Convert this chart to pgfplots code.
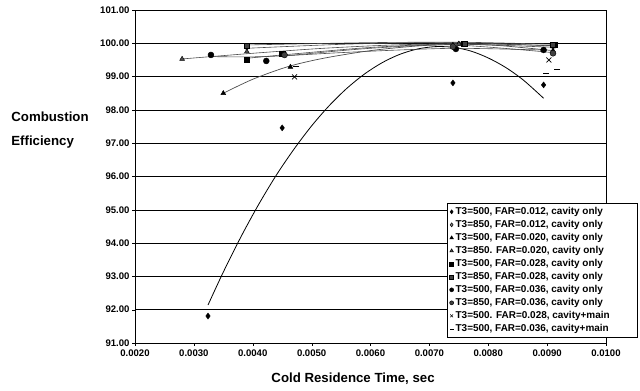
\documentclass[border=0pt]{standalone}
\usepackage{pgfplots}
\pgfplotsset{compat=1.18}
\usepackage{fontspec}
\setmainfont{Liberation Sans}
\newcommand\lp{\rule{24bp}{0pt}}
\begin{document}
\begin{tikzpicture}
\begin{axis}[
  name=ax,
  scale only axis, width=471bp, height=333bp,
  xmin=0.002, xmax=0.010, ymin=91, ymax=101,
  xtick={0.002,0.003,0.004,0.005,0.006,0.007,0.008,0.009,0.010},
  ytick={91,92,93,94,95,96,97,98,99,100,101},
  scaled x ticks=false,
  xticklabel style={/pgf/number format/.cd, fixed, fixed zerofill, precision=4},
  yticklabel style={xshift=1pt, /pgf/number format/.cd, fixed, fixed zerofill, precision=2},
  /pgf/number format/assume math mode=true,
  tick label style={font=\fontsize{9.6}{10}\selectfont\bfseries},
  xtick pos=bottom, ytick pos=left, tick align=outside,
  major tick length=3pt, tick style={black},
  ymajorgrids, grid style={black, line width=0.6pt},
  axis line style={black, line width=0.7pt},
  xlabel={Cold Residence Time, sec},
  xlabel style={font=\fontsize{13.3}{15}\selectfont\bfseries, at={(axis description cs:0.463,-0.08)}, anchor=north},
  ylabel={Combustion\\Efficiency},
  ylabel style={rotate=-90, align=left, anchor=west, font=\fontsize{13.3}{24}\selectfont\bfseries, at={(axis description cs:-0.27,0.64)}},
  legend cell align=left,
  legend style={at={(axis description cs:1.068,0.42)}, anchor=north east,
    font=\fontsize{10}{11}\selectfont\bfseries, draw=black, line width=0.7pt,
    inner xsep=2pt, inner ysep=2pt, row sep=0.3pt, fill=white,
    /tikz/every even column/.append style={column sep=1pt}},
  legend image code/.code={\draw[#1, mark size=2pt, line width=0.5pt] plot coordinates {(0.12cm,0cm)};},
]
% trend lines
\addplot[black, line width=0.8pt, smooth, forget plot] coordinates {
 (0.00324,92.14) (0.0035,93.13) (0.0038,94.19) (0.0041,95.16) (0.0044,96.04)
 (0.0047,96.82) (0.0050,97.52) (0.0053,98.13) (0.0056,98.65) (0.0059,99.08)
 (0.0062,99.42) (0.0065,99.67) (0.0068,99.83) (0.0071,99.90) (0.0074,99.88)
 (0.0077,99.77) (0.0080,99.56) (0.0083,99.27) (0.0086,98.89) (0.00894,98.35)};
\addplot[gray!60!black, line width=0.6pt, smooth, forget plot] coordinates {
 (0.0039,99.85) (0.0057,99.98) (0.0075,100.02) (0.0091,99.92)};
\addplot[gray!60!black, line width=0.7pt, smooth, forget plot] coordinates {
 (0.0035,98.5) (0.0040,98.92) (0.0046,99.3) (0.0052,99.55) (0.0060,99.78) (0.0068,99.92) (0.0075,99.97) (0.0082,99.93) (0.0091,99.78)};
\addplot[gray!60!black, line width=0.6pt, smooth, forget plot] coordinates {
 (0.0028,99.53) (0.0040,99.7) (0.0052,99.85) (0.0064,99.95) (0.0075,99.98) (0.0091,99.88)};
\addplot[gray!60!black, line width=0.6pt, smooth, forget plot] coordinates {
 (0.0039,99.55) (0.0045,99.65) (0.0058,99.85) (0.0068,99.95) (0.0076,99.99) (0.0091,99.93)};
\addplot[gray!60!black, line width=0.6pt, smooth, forget plot] coordinates {
 (0.0039,99.95) (0.0060,100.02) (0.0076,100.03) (0.0091,99.97)};
\addplot[gray!60!black, line width=0.6pt, smooth, forget plot] coordinates {
 (0.00329,99.6) (0.0042,99.6) (0.0055,99.72) (0.0065,99.8) (0.0075,99.85) (0.0089,99.8)};
\addplot[gray!60!black, line width=0.6pt, smooth, forget plot] coordinates {
 (0.00454,99.62) (0.0060,99.85) (0.0074,99.95) (0.0091,99.72)};
% data markers
\addplot[only marks, mark=diamond*, mark size=3pt, black] coordinates {
 (0.00324,91.81) (0.0045,97.46) (0.0074,98.81) (0.00894,98.75)};
\addlegendentry{T3=500, FAR=0.012, cavity only\lp}
\addplot[only marks, mark=diamond*, mark size=2.2pt, black, mark options={fill=gray}] coordinates {
 (0.0039,99.85) (0.0075,100.0) (0.0091,99.88)};
\addlegendentry{T3=850, FAR=0.012, cavity only\lp}
\addplot[only marks, mark=triangle*, mark size=2.8pt, black] coordinates {
 (0.0035,98.5) (0.00464,99.29) (0.0074,99.95) (0.0091,99.78)};
\addlegendentry{T3=500, FAR=0.020, cavity only\lp}
\addplot[only marks, mark=triangle*, mark size=2.8pt, black, mark options={fill=gray!60!black}] coordinates {
 (0.0028,99.53) (0.0039,99.75) (0.0075,99.98) (0.0091,99.9)};
\addlegendentry{T3=850. FAR=0.020, cavity only\lp}
\addplot[only marks, mark=square*, mark size=2.6pt, black] coordinates {
 (0.0039,99.5) (0.0045,99.68) (0.00758,99.99) (0.00913,99.95)};
\addlegendentry{T3=500, FAR=0.028, cavity only\lp}
\addplot[only marks, mark=square*, mark size=2.6pt, black, mark options={fill=gray!50!black}] coordinates {
 (0.0039,99.92) (0.0076,100.0) (0.0091,99.97)};
\addlegendentry{T3=850, FAR=0.028, cavity only\lp}
\addplot[only marks, mark=*, mark size=3pt, black] coordinates {
 (0.00329,99.65) (0.00423,99.47) (0.00745,99.83) (0.00894,99.8)};
\addlegendentry{T3=500, FAR=0.036, cavity only\lp}
\addplot[only marks, mark=*, mark size=3pt, black, mark options={fill=gray!50!black}] coordinates {
 (0.00454,99.65) (0.0074,99.9) (0.0091,99.7)};
\addlegendentry{T3=850, FAR=0.036, cavity only\lp}
\addplot[only marks, mark=x, mark size=3.5pt, black, line width=0.7pt] coordinates {
 (0.00471,98.99) (0.00903,99.5)};
\addlegendentry{T3=500. FAR=0.028, cavity+main\lp}
\addplot[only marks, mark=-, mark size=3pt, black, line width=1pt] coordinates {
 (0.00474,99.3) (0.00898,99.08) (0.00917,99.2)};
\addlegendentry{T3=500, FAR=0.036, cavity+main\lp}
\end{axis}
\pgfresetboundingbox
\path (ax.south west) ++(-135bp,-48bp) rectangle ++(640bp,391bp);
\end{tikzpicture}
\end{document}
